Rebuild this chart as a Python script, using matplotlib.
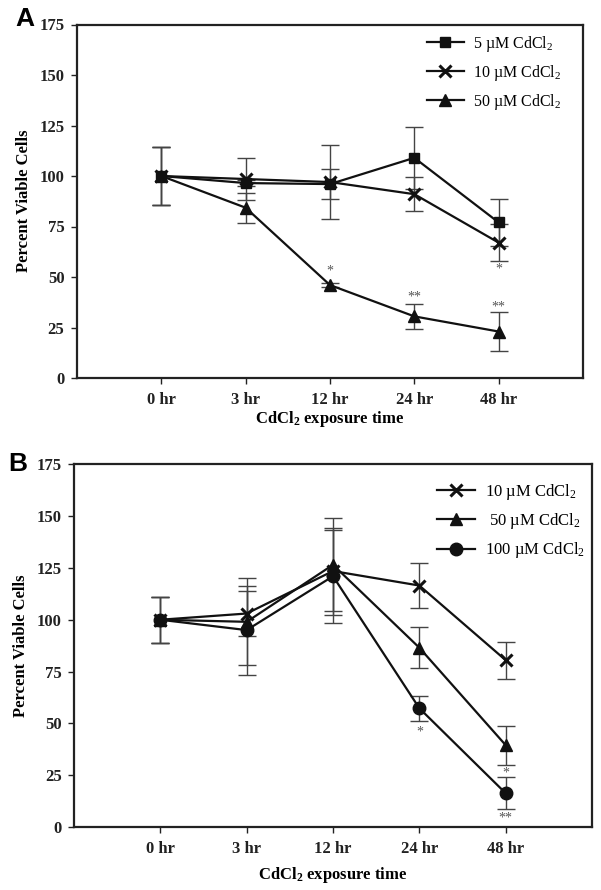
import matplotlib
matplotlib.use("Agg")
import matplotlib.pyplot as plt
from matplotlib.lines import Line2D
import numpy as np

plt.rcParams['font.family'] = ['Liberation Serif', 'DejaVu Serif']
plt.rcParams['mathtext.fontset'] = 'custom'
plt.rcParams['mathtext.rm'] = 'Liberation Serif'
plt.rcParams['mathtext.it'] = 'Liberation Serif:italic'
plt.rcParams['mathtext.bf'] = 'Liberation Serif:bold'

# ---------------- data ----------------
time_labels = ["0 hr", "3 hr", "12 hr", "24 hr", "48 hr"]

# Panel A
a_5_mean = [100, 96.5, 96, 109, 77]
a_5_err = [14.5, 1.5, 7.5, 15.5, 11.5]
a_10_mean = [100, 98.5, 97, 91, 67]
a_10_err = [14.5, 10.5, 18.5, 8.5, 9.3]
a_50_mean = [100, 84.3, 46, 30.5, 23]
a_50_err = [14.5, 7.5, 1.0, 6.3, 9.8]
a_stars = [(2, 53, "*"), (3, 40, "**"), (4, 35, "**"), (4, 54, "*")]

# Panel B
b_10_mean = [100, 103, 123.5, 116.5, 80.5]
b_10_err = [11, 11, 21, 11, 9]
b_50_mean = [100, 99, 126.5, 86.5, 39.5]
b_50_err = [11, 21, 22.5, 10, 9.4]
b_100_mean = [100, 95, 121, 57.3, 16.3]
b_100_err = [11, 21.5, 22.5, 6.1, 7.8]
b_stars = [(3, 46, "*"), (4, 26, "*"), (4, 4.5, "**")]

yticks = [0, 25, 50, 75, 100, 125, 150, 175]

fig = plt.figure(figsize=(6.01, 8.90), dpi=100)
axA = fig.add_axes([77/601, 1-378/890, (583-77)/601, (378-24.5)/890])
axB = fig.add_axes([74/601, 1-827/890, (592-74)/601, (827-464.3)/890])

x = np.arange(len(time_labels))
ecol = '#444444'


def draw(ax, series, stars, legend_labels, leg_anchor, leg_fs, xlpad):
    handles = []
    for mean, err, marker, ms, mew in series:
        ax.errorbar(x, mean, yerr=err, fmt='none', ecolor=ecol, elinewidth=1.0,
                    capsize=6.5, capthick=1.0, zorder=2)
        ax.plot(x, mean, color='#111111', lw=1.6, marker=marker, ms=ms,
                mfc='#111111', mec='#111111', mew=mew, zorder=3)
        handles.append(Line2D([], [], color='#111111', lw=1.6, marker=marker, ms=ms,
                              mfc='#111111', mec='#111111', mew=mew))
    for xi, yv, s in stars:
        ax.text(xi, yv, s, ha='center', va='center', fontsize=10, color='#555555')
    ax.set_xlim(-1, 5)
    ax.set_ylim(0, 175)
    ax.set_yticks(yticks)
    ax.set_xticks(x)
    ax.set_xticklabels(time_labels, fontweight='bold', fontsize=12)
    ax.set_yticklabels([str(t) for t in yticks], fontweight='bold', fontsize=12)
    ax.tick_params(axis='x', direction='out', length=4, width=1, pad=6, colors='#222222')
    ax.tick_params(axis='y', direction='out', length=4, width=1, pad=5, colors='#222222')
    for sp in ax.spines.values():
        sp.set_linewidth(1.6)
        sp.set_color('#222222')
    ax.set_ylabel("Percent Viable Cells", fontweight='bold', fontsize=12, labelpad=5)
    ax.set_xlabel(r"CdCl$_\mathbf{2}$ exposure time", fontweight='bold', fontsize=12,
                  labelpad=xlpad)
    leg = ax.legend(handles, legend_labels, loc='upper left', bbox_to_anchor=leg_anchor,
                    frameon=False, fontsize=leg_fs, handlelength=2.3, handletextpad=0.6,
                    labelspacing=0.55, borderpad=0, borderaxespad=0)
    return leg


draw(axA,
     [(a_5_mean, a_5_err, 's', 7, 1), (a_10_mean, a_10_err, 'x', 8, 2.2),
      (a_50_mean, a_50_err, '^', 8, 1)],
     a_stars,
     ["5 µM CdCl$_2$", "10 µM CdCl$_2$", "50 µM CdCl$_2$"],
     ((427-77)/506, (378-34)/353.5), 11.5, 1)

draw(axB,
     [(b_10_mean, b_10_err, 'x', 8, 2.2), (b_50_mean, b_50_err, '^', 8, 1),
      (b_100_mean, b_100_err, 'o', 9, 1)],
     b_stars,
     ["10 µM CdCl$_{\\mathregular{2}}$", " 50 µM CdCl$_{\\mathregular{2}}$", "100 µM CdCl$_{\\mathregular{2}}$"],
     ((437-74)/518, (827-482)/362.7), 12, 6)

fig.text(15/601, 1-19/890, "A", family='Liberation Sans', fontweight='bold', fontsize=19,
         ha='left', va='center')
fig.text(8/601, 1-464/890, "B", family='Liberation Sans', fontweight='bold', fontsize=19,
         ha='left', va='center')

fig.savefig("out.png", dpi=100)
